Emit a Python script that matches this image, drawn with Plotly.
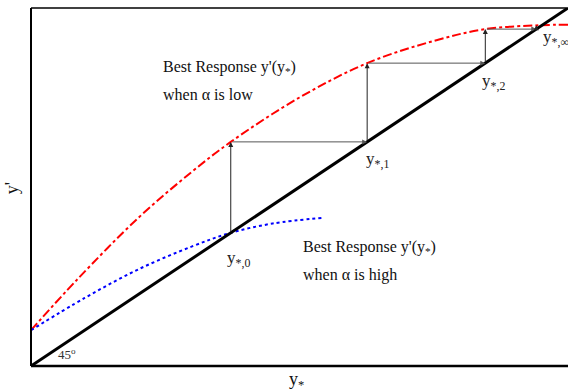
import plotly.graph_objects as go

# Best response when alpha is low (red)
red_x = [0.0, 0.085, 0.2, 0.3, 0.372, 0.5, 0.626, 0.75, 0.846, 0.95, 1.0]
red_y = [0.10, 0.24, 0.414, 0.543, 0.626, 0.750, 0.846, 0.908, 0.941, 0.952, 0.953]

# Best response when alpha is high (blue)
blue_x = [0.0, 0.1, 0.2, 0.3, 0.372, 0.45, 0.544]
blue_y = [0.10, 0.19, 0.27, 0.334, 0.372, 0.398, 0.414]

# 45 degree line
diag_x = [0.0, 1.0]
diag_y = [0.0, 1.0]

# iteration points y*,k
iter_pts = [0.372, 0.626, 0.846, 0.941, 0.952]
iter_labels = ["y<sub>*,0</sub>", "y<sub>*,1</sub>", "y<sub>*,2</sub>", "y<sub>*,∞</sub>"]
label_pos = [(0.361, 0.30), (0.621, 0.575), (0.837, 0.793), (0.950, 0.916)]

FONT = "Liberation Serif"

fig = go.Figure()
fig.add_trace(go.Scatter(x=red_x, y=red_y, mode="lines", line=dict(color="red", width=2, dash="dashdot", shape="spline"), hoverinfo="skip"))
fig.add_trace(go.Scatter(x=blue_x, y=blue_y, mode="lines", line=dict(color="blue", width=2, dash="dot", shape="spline"), hoverinfo="skip"))
fig.add_trace(go.Scatter(x=diag_x, y=diag_y, mode="lines", line=dict(color="black", width=3), hoverinfo="skip"))

ann = []
# cobweb arrows
for i in range(len(iter_pts) - 1):
    a, b = iter_pts[i], iter_pts[i + 1]
    ann.append(dict(x=a, y=b, ax=a, ay=a, xref="x", yref="y", axref="x", ayref="y", text="", showarrow=True,
                    arrowhead=2, arrowsize=1, arrowwidth=1, arrowcolor="#222", standoff=0, startstandoff=0))
    if i < len(iter_pts) - 2:
        ann.append(dict(x=b, y=b, ax=a, ay=b, xref="x", yref="y", axref="x", ayref="y", text="", showarrow=True,
                        arrowhead=2, arrowsize=1, arrowwidth=1, arrowcolor="#555", standoff=0, startstandoff=0))

for t, (px, py) in zip(iter_labels, label_pos):
    ann.append(dict(x=px, y=py, xref="x", yref="y", text=t, showarrow=False, xanchor="left", yanchor="middle",
                    font=dict(family=FONT, size=17, color="#222")))

txt = [
    ("Best Response y'(y<sub>*</sub>)", 0.242, 0.835),
    ("when α is low", 0.242, 0.757),
    ("Best Response y'(y<sub>*</sub>)", 0.503, 0.332),
    ("when α is high", 0.503, 0.254),
]
for t, px, py in txt:
    ann.append(dict(x=px, y=py, xref="x", yref="y", text=t, showarrow=False, xanchor="left", yanchor="middle",
                    font=dict(family=FONT, size=16, color="#111")))

ann.append(dict(x=0.067, y=0.033, xref="x", yref="y", text="45<sup>o</sup>", showarrow=False,
                font=dict(family=FONT, size=13, color="#333")))
ann.append(dict(x=-0.035, y=0.497, xref="paper", yref="paper", text="y'", textangle=-90, showarrow=False,
                xanchor="center", yanchor="middle",
                font=dict(family=FONT, size=18, color="#111")))
ann.append(dict(x=0.495, y=-0.04, xref="paper", yref="paper", text="y<sub>*</sub>", showarrow=False,
                xanchor="center", yanchor="middle",
                font=dict(family=FONT, size=18, color="#111")))

shapes = [
    dict(type="line", xref="paper", yref="paper", x0=0, x1=0, y0=0, y1=1, line=dict(color="black", width=2)),
    dict(type="line", xref="paper", yref="paper", x0=0, x1=1, y0=1, y1=1, line=dict(color="black", width=1.5)),
    dict(type="line", xref="paper", yref="paper", x0=0, x1=1, y0=0, y1=0, line=dict(color="black", width=2.5)),
]

fig.update_layout(
    width=568, height=391,
    margin=dict(l=31, r=0, t=8, b=25),
    paper_bgcolor="white", plot_bgcolor="white",
    showlegend=False,
    xaxis=dict(range=[0, 1], showgrid=False, zeroline=False, showticklabels=False, ticks="", showline=False),
    yaxis=dict(range=[0, 1], showgrid=False, zeroline=False, showticklabels=False, ticks="", showline=False),
    annotations=ann,
    shapes=shapes,
)

fig.write_html("out.html", config={"displayModeBar": False},
               post_script="document.body.style.margin='0';document.body.style.overflow='hidden';")
